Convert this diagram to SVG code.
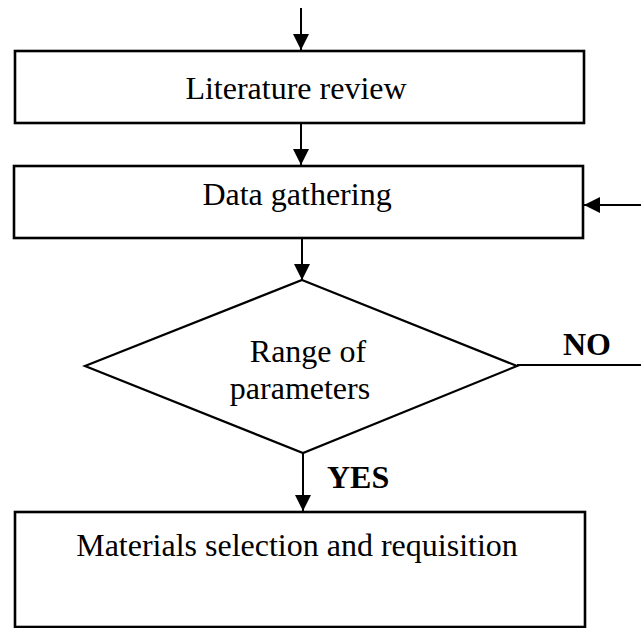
<svg xmlns="http://www.w3.org/2000/svg" width="641" height="628" viewBox="0 0 641 628">
<defs>
<style>
.box{fill:#fff;stroke:#000;stroke-width:2.6}
.dia{fill:#fff;stroke:#000;stroke-width:2.2}
.ln{fill:none;stroke:#000;stroke-width:2}
.t{font-family:"Liberation Serif","Times New Roman",serif;font-size:32px;fill:#000;text-anchor:middle}
.b{font-family:"Liberation Serif","Times New Roman",serif;font-size:32px;font-weight:bold;fill:#000}
</style>
<marker id="ah" viewBox="0 0 16 16" refX="16" refY="8" markerWidth="16" markerHeight="16" markerUnits="userSpaceOnUse" orient="auto">
<path d="M0,0 L16,8 L0,16 Z" fill="#000"/>
</marker>
</defs>
<rect width="641" height="628" fill="#fff"/>
<g id="connectors">
<line class="ln" x1="301" y1="8" x2="301" y2="50" marker-end="url(#ah)"/>
<line class="ln" x1="301" y1="123" x2="301" y2="165" marker-end="url(#ah)"/>
<line class="ln" x1="302" y1="238" x2="302" y2="280" marker-end="url(#ah)"/>
<line class="ln" x1="303" y1="453" x2="303" y2="511" marker-end="url(#ah)"/>
<line class="ln" x1="517" y1="365" x2="641" y2="365"/>
<line class="ln" x1="641" y1="205" x2="584" y2="205" marker-end="url(#ah)"/>
</g>
<g id="literature">
<rect class="box" x="15" y="51" width="569" height="72"/>
<text class="t" x="296" y="99">Literature review</text>
</g>
<g id="data">
<rect class="box" x="14" y="166" width="569" height="72"/>
<text class="t" x="297" y="205">Data gathering</text>
</g>
<g id="range">
<polygon class="dia" points="302,280 517,366 303,453 85,366"/>
<text class="t" x="308" y="362">Range of</text>
<text class="t" x="300" y="399">parameters</text>
</g>
<g id="materials">
<rect class="box" x="15" y="512" width="570" height="115"/>
<text class="t" x="297" y="556">Materials selection and requisition</text>
</g>
<g id="labels">
<text class="b" x="563" y="355">NO</text>
<text class="b" x="327" y="488">YES</text>
</g>
</svg>
